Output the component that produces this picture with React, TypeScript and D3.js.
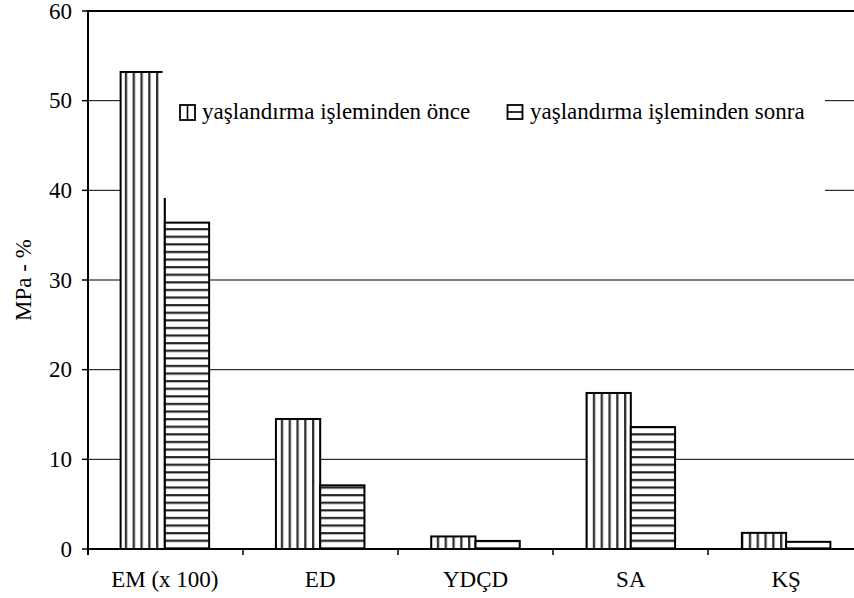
import React from "react";
import * as d3 from "d3";

const categories = ["EM (x 100)", "ED", "YDÇD", "SA", "KŞ"];
const seriesNames = ["yaşlandırma işleminden önce", "yaşlandırma işleminden sonra"];
const before = [53.2, 14.5, 1.4, 17.4, 1.8];
const after = [36.4, 7.1, 0.9, 13.6, 0.8];
const yTicks = [0, 10, 20, 30, 40, 50, 60];
const yTitle = "MPa - %";

const W = 854;
const H = 598;
const FONT = "'Liberation Serif', 'Times New Roman', serif";

export default function App() {
  const left = 88;
  const right = 863;
  const x = d3.scaleBand<string>().domain(categories).range([left, right]).paddingInner(0.43).paddingOuter(0.21);
  const sub = d3.scaleBand<string>().domain(["b", "a"]).range([0, x.bandwidth()]);
  const y = d3.scaleLinear().domain([0, 60]).range([549, 11]);
  const step = (right - left) / categories.length;
  const boundaries = d3.range(categories.length + 1).map((i) => left + i * step);
  const series = [
    { key: "b", values: before, fill: "url(#vstripe)" },
    { key: "a", values: after, fill: "url(#hstripe)" },
  ];

  return (
    <svg width={W} height={H} style={{ position: "absolute", left: 0, top: 0, background: "#fff" }}>
      <defs>
        <pattern id="vstripe" patternUnits="userSpaceOnUse" width={7.8} height={8}>
          <rect width={7.8} height={8} fill="#fff" />
          <line x1={1} x2={1} y1={0} y2={8} stroke="#000" strokeWidth={1.6} />
          <line x1={2.4} x2={2.4} y1={0} y2={8} stroke="#999" strokeWidth={0.8} />
        </pattern>
        <pattern id="hstripe" patternUnits="userSpaceOnUse" width={8} height={7.6}>
          <rect width={8} height={7.6} fill="#fff" />
          <line x1={0} x2={8} y1={1} y2={1} stroke="#000" strokeWidth={1.6} />
          <line x1={0} x2={8} y1={2.4} y2={2.4} stroke="#999" strokeWidth={0.8} />
        </pattern>
      </defs>
      <rect width={W} height={H} fill="#fff" />
      {yTicks.slice(1, -1).map((t) => (
        <line key={t} x1={left} x2={right} y1={y(t)} y2={y(t)} stroke="#000" strokeWidth={1} />
      ))}
      <line x1={left} x2={right} y1={y(60)} y2={y(60)} stroke="#000" strokeWidth={2} />
      {series.map((s) =>
        categories.map((c, i) => {
          const x0 = (x(c) as number) + (sub(s.key) as number);
          const y0 = y(s.values[i]);
          return (
            <rect
              key={s.key + c}
              x={x0}
              y={y0}
              width={sub.bandwidth()}
              height={y(0) - y0}
              fill={s.fill}
              stroke="#000"
              strokeWidth={2}
            />
          );
        })
      )}
      <rect x={162.5} y={68} width={662.5} height={130} fill="#fff" />
      <g>
        <rect x={180} y={105} width={15} height={15} fill="#fff" stroke="#000" strokeWidth={1.8} />
        <line x1={187.5} x2={187.5} y1={105} y2={120} stroke="#000" strokeWidth={1.6} />
        <text x={202} y={119} fontFamily={FONT} fontSize={23} fill="#000">{seriesNames[0]}</text>
        <rect x={507.5} y={105} width={15} height={14} fill="#fff" stroke="#000" strokeWidth={1.8} />
        <line x1={507.5} x2={522.5} y1={112} y2={112} stroke="#000" strokeWidth={1.6} />
        <text x={530} y={119} fontFamily={FONT} fontSize={23} fill="#000">{seriesNames[1]}</text>
      </g>
      <line x1={left} x2={left} y1={y(60) - 1} y2={y(0) + 6} stroke="#000" strokeWidth={2} />
      {yTicks.map((t) => (
        <g key={t}>
          <line x1={82} x2={left} y1={y(t)} y2={y(t)} stroke="#000" strokeWidth={1.5} />
          <text x={72} y={y(t) + 7.5} textAnchor="end" fontFamily={FONT} fontSize={23} fill="#000">
            {t}
          </text>
        </g>
      ))}
      <text
        transform={`translate(31,280) rotate(-90)`}
        textAnchor="middle"
        fontFamily={FONT}
        fontSize={23}
        fill="#000"
      >
        {yTitle}
      </text>
      <line x1={left} x2={right} y1={y(0)} y2={y(0)} stroke="#000" strokeWidth={2} />
      {boundaries.map((b, i) => (
        <line key={i} x1={b} x2={b} y1={y(0)} y2={y(0) + 6} stroke="#000" strokeWidth={1.5} />
      ))}
      {categories.map((c) => (
        <text
          key={c}
          x={(x(c) as number) + x.bandwidth() / 2}
          y={587}
          textAnchor="middle"
          fontFamily={FONT}
          fontSize={23}
          fill="#000"
        >
          {c}
        </text>
      ))}
    </svg>
  );
}
